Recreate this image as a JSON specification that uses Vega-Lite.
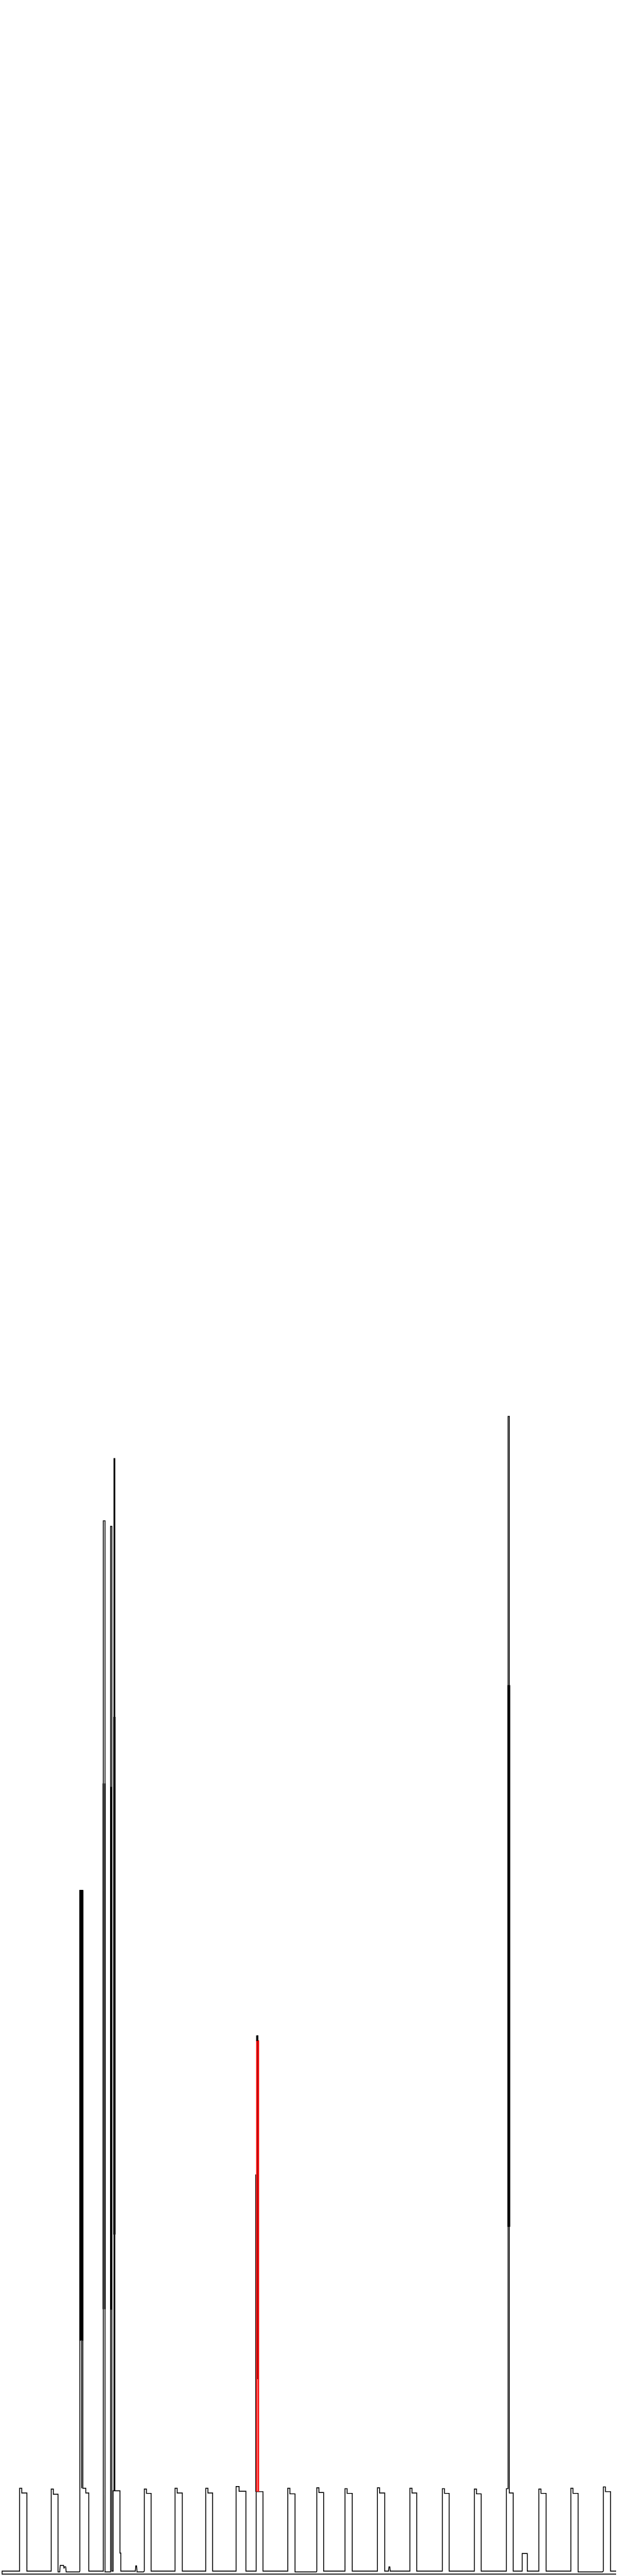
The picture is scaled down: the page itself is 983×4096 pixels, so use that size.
{
  "$schema": "https://vega.github.io/schema/vega-lite/v6.json",
  "width": 983,
  "height": 4096,
  "autosize": {"type": "fit", "contains": "padding"},
  "padding": 0,
  "background": "white",
  "config": {"view": {"stroke": null}},
  "datasets": {
    "trace": [
      {"series": "M", "o": 1, "x": 1440, "h": 3},
      {"series": "M", "o": 2, "x": 2, "h": 3},
      {"series": "M", "o": 3, "x": 2, "h": 10},
      {"series": "M", "o": 4, "x": 43, "h": 10},
      {"series": "M", "o": 5, "x": 43, "h": 203},
      {"series": "M", "o": 6, "x": 48, "h": 203},
      {"series": "M", "o": 7, "x": 48, "h": 192},
      {"series": "M", "o": 8, "x": 60, "h": 192},
      {"series": "M", "o": 9, "x": 60, "h": 10},
      {"series": "M", "o": 10, "x": 117, "h": 10},
      {"series": "M", "o": 11, "x": 117, "h": 201},
      {"series": "M", "o": 12, "x": 122, "h": 201},
      {"series": "M", "o": 13, "x": 122, "h": 189},
      {"series": "M", "o": 14, "x": 133, "h": 189},
      {"series": "M", "o": 15, "x": 133, "h": 8},
      {"series": "M", "o": 16, "x": 137, "h": 8},
      {"series": "M", "o": 17, "x": 138, "h": 23},
      {"series": "M", "o": 18, "x": 146, "h": 23},
      {"series": "M", "o": 19, "x": 147, "h": 16},
      {"series": "M", "o": 20, "x": 148, "h": 20},
      {"series": "M", "o": 21, "x": 151, "h": 20},
      {"series": "M", "o": 22, "x": 152, "h": 8},
      {"series": "M", "o": 23, "x": 183, "h": 8},
      {"series": "M", "o": 24, "x": 184, "h": 10},
      {"series": "M", "o": 25, "x": 184, "h": 1596},
      {"series": "M", "o": 26, "x": 191, "h": 1596},
      {"series": "M", "o": 27, "x": 191, "h": 203},
      {"series": "M", "o": 28, "x": 198, "h": 203},
      {"series": "M", "o": 29, "x": 198, "h": 192},
      {"series": "M", "o": 30, "x": 205, "h": 192},
      {"series": "M", "o": 31, "x": 205, "h": 10},
      {"series": "M", "o": 32, "x": 239, "h": 10},
      {"series": "M", "o": 33, "x": 239, "h": 2457},
      {"series": "M", "o": 34, "x": 243, "h": 2457},
      {"series": "M", "o": 35, "x": 243, "h": 8},
      {"series": "M", "o": 36, "x": 256, "h": 8},
      {"series": "M", "o": 37, "x": 256, "h": 2444},
      {"series": "M", "o": 38, "x": 259, "h": 2444},
      {"series": "M", "o": 39, "x": 259, "h": 10},
      {"series": "M", "o": 40, "x": 262, "h": 10},
      {"series": "M", "o": 41, "x": 262, "h": 197},
      {"series": "M", "o": 42, "x": 264, "h": 197},
      {"series": "M", "o": 43, "x": 264, "h": 2602},
      {"series": "M", "o": 44, "x": 266, "h": 2602},
      {"series": "M", "o": 45, "x": 266, "h": 197},
      {"series": "M", "o": 46, "x": 278, "h": 197},
      {"series": "M", "o": 47, "x": 278, "h": 52},
      {"series": "M", "o": 48, "x": 280, "h": 52},
      {"series": "M", "o": 49, "x": 280, "h": 10},
      {"series": "M", "o": 50, "x": 314, "h": 10},
      {"series": "M", "o": 51, "x": 315, "h": 22},
      {"series": "M", "o": 52, "x": 317, "h": 22},
      {"series": "M", "o": 53, "x": 318, "h": 8},
      {"series": "M", "o": 54, "x": 333, "h": 8},
      {"series": "M", "o": 55, "x": 335, "h": 10},
      {"series": "M", "o": 56, "x": 335, "h": 201},
      {"series": "M", "o": 57, "x": 340, "h": 201},
      {"series": "M", "o": 58, "x": 340, "h": 191},
      {"series": "M", "o": 59, "x": 351, "h": 191},
      {"series": "M", "o": 60, "x": 351, "h": 10},
      {"series": "M", "o": 61, "x": 407, "h": 10},
      {"series": "M", "o": 62, "x": 407, "h": 203},
      {"series": "M", "o": 63, "x": 412, "h": 203},
      {"series": "M", "o": 64, "x": 412, "h": 192},
      {"series": "M", "o": 65, "x": 424, "h": 192},
      {"series": "M", "o": 66, "x": 424, "h": 10},
      {"series": "M", "o": 67, "x": 479, "h": 10},
      {"series": "M", "o": 68, "x": 479, "h": 203},
      {"series": "M", "o": 69, "x": 484, "h": 203},
      {"series": "M", "o": 70, "x": 484, "h": 192},
      {"series": "M", "o": 71, "x": 495, "h": 192},
      {"series": "M", "o": 72, "x": 495, "h": 10},
      {"series": "M", "o": 73, "x": 550, "h": 10},
      {"series": "M", "o": 74, "x": 550, "h": 207},
      {"series": "M", "o": 75, "x": 557, "h": 207},
      {"series": "M", "o": 76, "x": 557, "h": 196},
      {"series": "M", "o": 77, "x": 573, "h": 196},
      {"series": "M", "o": 78, "x": 573, "h": 10},
      {"series": "M", "o": 79, "x": 597, "h": 10},
      {"series": "M", "o": 80, "x": 597, "h": 195},
      {"series": "M", "o": 81, "x": 613, "h": 195},
      {"series": "M", "o": 82, "x": 613, "h": 10},
      {"series": "M", "o": 83, "x": 671, "h": 10},
      {"series": "M", "o": 84, "x": 671, "h": 203},
      {"series": "M", "o": 85, "x": 676, "h": 203},
      {"series": "M", "o": 86, "x": 676, "h": 190},
      {"series": "M", "o": 87, "x": 688, "h": 190},
      {"series": "M", "o": 88, "x": 688, "h": 8},
      {"series": "M", "o": 89, "x": 738, "h": 8},
      {"series": "M", "o": 90, "x": 739, "h": 10},
      {"series": "M", "o": 91, "x": 739, "h": 204},
      {"series": "M", "o": 92, "x": 744, "h": 204},
      {"series": "M", "o": 93, "x": 744, "h": 193},
      {"series": "M", "o": 94, "x": 755, "h": 193},
      {"series": "M", "o": 95, "x": 755, "h": 10},
      {"series": "M", "o": 96, "x": 805, "h": 10},
      {"series": "M", "o": 97, "x": 805, "h": 202},
      {"series": "M", "o": 98, "x": 810, "h": 202},
      {"series": "M", "o": 99, "x": 810, "h": 191},
      {"series": "M", "o": 100, "x": 822, "h": 191},
      {"series": "M", "o": 101, "x": 822, "h": 10},
      {"series": "M", "o": 102, "x": 881, "h": 10},
      {"series": "M", "o": 103, "x": 881, "h": 204},
      {"series": "M", "o": 104, "x": 886, "h": 204},
      {"series": "M", "o": 105, "x": 886, "h": 192},
      {"series": "M", "o": 106, "x": 898, "h": 192},
      {"series": "M", "o": 107, "x": 898, "h": 10},
      {"series": "M", "o": 108, "x": 907, "h": 10},
      {"series": "M", "o": 109, "x": 908, "h": 20},
      {"series": "M", "o": 110, "x": 910, "h": 20},
      {"series": "M", "o": 111, "x": 911, "h": 10},
      {"series": "M", "o": 112, "x": 957, "h": 10},
      {"series": "M", "o": 113, "x": 957, "h": 203},
      {"series": "M", "o": 114, "x": 962, "h": 203},
      {"series": "M", "o": 115, "x": 962, "h": 192},
      {"series": "M", "o": 116, "x": 973, "h": 192},
      {"series": "M", "o": 117, "x": 973, "h": 10},
      {"series": "M", "o": 118, "x": 1033, "h": 10},
      {"series": "M", "o": 119, "x": 1033, "h": 202},
      {"series": "M", "o": 120, "x": 1038, "h": 202},
      {"series": "M", "o": 121, "x": 1038, "h": 191},
      {"series": "M", "o": 122, "x": 1049, "h": 191},
      {"series": "M", "o": 123, "x": 1049, "h": 10},
      {"series": "M", "o": 124, "x": 1108, "h": 10},
      {"series": "M", "o": 125, "x": 1108, "h": 201},
      {"series": "M", "o": 126, "x": 1113, "h": 201},
      {"series": "M", "o": 127, "x": 1113, "h": 190},
      {"series": "M", "o": 128, "x": 1124, "h": 190},
      {"series": "M", "o": 129, "x": 1124, "h": 10},
      {"series": "M", "o": 130, "x": 1183, "h": 10},
      {"series": "M", "o": 131, "x": 1183, "h": 202},
      {"series": "M", "o": 132, "x": 1187, "h": 202},
      {"series": "M", "o": 133, "x": 1187, "h": 2700},
      {"series": "M", "o": 134, "x": 1190, "h": 2700},
      {"series": "M", "o": 135, "x": 1190, "h": 192},
      {"series": "M", "o": 136, "x": 1199, "h": 192},
      {"series": "M", "o": 137, "x": 1199, "h": 10},
      {"series": "M", "o": 138, "x": 1220, "h": 10},
      {"series": "M", "o": 139, "x": 1220, "h": 51},
      {"series": "M", "o": 140, "x": 1232, "h": 51},
      {"series": "M", "o": 141, "x": 1232, "h": 10},
      {"series": "M", "o": 142, "x": 1259, "h": 10},
      {"series": "M", "o": 143, "x": 1259, "h": 201},
      {"series": "M", "o": 144, "x": 1264, "h": 201},
      {"series": "M", "o": 145, "x": 1264, "h": 191},
      {"series": "M", "o": 146, "x": 1276, "h": 191},
      {"series": "M", "o": 147, "x": 1276, "h": 10},
      {"series": "M", "o": 148, "x": 1334, "h": 10},
      {"series": "M", "o": 149, "x": 1334, "h": 203},
      {"series": "M", "o": 150, "x": 1339, "h": 203},
      {"series": "M", "o": 151, "x": 1339, "h": 191},
      {"series": "M", "o": 152, "x": 1351, "h": 191},
      {"series": "M", "o": 153, "x": 1351, "h": 8},
      {"series": "M", "o": 154, "x": 1408, "h": 8},
      {"series": "M", "o": 155, "x": 1410, "h": 10},
      {"series": "M", "o": 156, "x": 1410, "h": 206},
      {"series": "M", "o": 157, "x": 1415, "h": 206},
      {"series": "M", "o": 158, "x": 1415, "h": 195},
      {"series": "M", "o": 159, "x": 1427, "h": 195},
      {"series": "M", "o": 160, "x": 1427, "h": 10},
      {"series": "M", "o": 161, "x": 1440, "h": 10},
      {"series": "A2", "o": 1, "x": 188, "h": 203},
      {"series": "A2", "o": 2, "x": 188, "h": 547},
      {"series": "K1", "o": 1, "x": 596, "h": 195},
      {"series": "K1", "o": 2, "x": 596, "h": 934},
      {"series": "K2", "o": 1, "x": 600.5, "h": 457},
      {"series": "K2", "o": 2, "x": 600.5, "h": 1258},
      {"series": "R", "o": 1, "x": 598.5, "h": 195},
      {"series": "R", "o": 2, "x": 598.5, "h": 1245},
      {"series": "R", "o": 3, "x": 602.5, "h": 1245},
      {"series": "R", "o": 4, "x": 602.5, "h": 195}
    ],
    "bands": [
      {"x": 183.5, "x2": 192, "h": 547, "h2": 1596},
      {"x": 237.5, "x2": 240.5, "h": 620, "h2": 1845},
      {"x": 241.5, "x2": 244.5, "h": 620, "h2": 1845},
      {"x": 255.5, "x2": 259.5, "h": 619, "h2": 1837},
      {"x": 262.5, "x2": 267.5, "h": 794, "h2": 2000},
      {"x": 1185.5, "x2": 1192, "h": 812, "h2": 2074},
      {"x": 597, "x2": 602, "h": 1245, "h2": 1258}
    ]
  },
  "layer": [
    {
      "data": {"name": "trace"},
      "transform": [{"filter": "datum.series != 'R'"}],
      "mark": {"type": "line", "color": "#000000", "strokeWidth": 1.4, "strokeCap": "butt"},
      "encoding": {
        "x": {"field": "x", "type": "quantitative", "scale": {"domain": [0, 1440], "nice": false, "zero": false}, "axis": null},
        "y": {"field": "h", "type": "quantitative", "scale": {"domain": [0, 6000], "nice": false, "zero": false}, "axis": null},
        "detail": {"field": "series", "type": "nominal"},
        "order": {"field": "o", "type": "quantitative"}
      }
    },
    {
      "data": {"name": "trace"},
      "transform": [{"filter": "datum.series == 'R'"}],
      "mark": {"type": "line", "color": "#ff0000", "strokeWidth": 2, "strokeCap": "butt"},
      "encoding": {
        "x": {"field": "x", "type": "quantitative", "scale": {"domain": [0, 1440], "nice": false, "zero": false}, "axis": null},
        "y": {"field": "h", "type": "quantitative", "scale": {"domain": [0, 6000], "nice": false, "zero": false}, "axis": null},
        "order": {"field": "o", "type": "quantitative"}
      }
    },
    {
      "data": {"name": "bands"},
      "mark": {"type": "rect", "color": "#000000"},
      "encoding": {
        "x": {"field": "x", "type": "quantitative", "scale": {"domain": [0, 1440], "nice": false, "zero": false}, "axis": null},
        "x2": {"field": "x2"},
        "y": {"field": "h", "type": "quantitative", "scale": {"domain": [0, 6000], "nice": false, "zero": false}, "axis": null},
        "y2": {"field": "h2"}
      }
    }
  ]
}
